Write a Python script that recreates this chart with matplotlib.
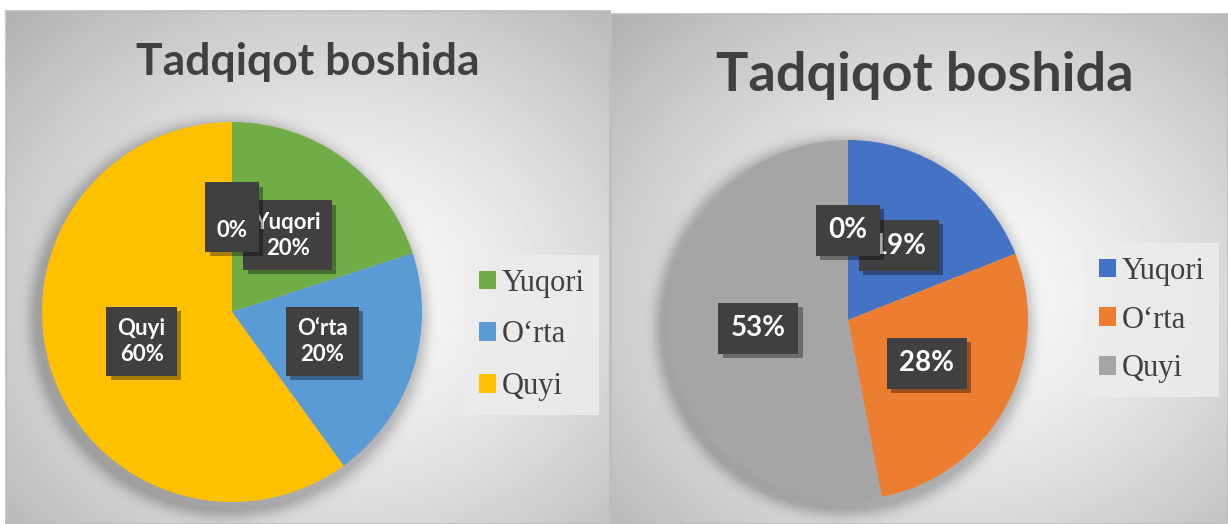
import numpy as np
import matplotlib.pyplot as plt
import matplotlib.patheffects as pe

W, H = 1228, 524

categories = ['Yuqori', 'O\u2018rta', 'Quyi', ' ']
left_values = [20, 20, 60, 0]
right_values = [19, 28, 53, 0]
left_colors = ['#70ad47', '#5b9bd5', '#ffc000', '#a5a5a5']
right_colors = ['#4472c4', '#ed7d31', '#a5a5a5', '#ffc000']
title_text = 'Tadqiqot boshida'


def frac(x0, y0, x1, y1):
    # pixel box (top-left origin) -> figure fraction rect
    return [x0 / W, 1 - y1 / H, (x1 - x0) / W, (y1 - y0) / H]


def background(fig, box, pie_c, pie_r):
    x0, y0, x1, y1 = box
    w, h = x1 - x0, y1 - y0
    ax = fig.add_axes(frac(*box), zorder=0)
    yy, xx = np.mgrid[0:h, 0:w]
    cx, cy = w * 0.55, h * 0.55
    d = np.sqrt(((xx - cx) / (w / 2)) ** 2 + ((yy - cy) / (h / 2)) ** 2)
    g = 0.985 - 0.16 * d ** 1.4
    # soft shadow under the pie
    pd = np.sqrt((xx - (pie_c[0] - x0 - 4)) ** 2 + (yy - (pie_c[1] - y0 + 6)) ** 2) - pie_r
    g = g - 0.2 * np.exp(-(np.clip(pd, 0, None) / 11.0) ** 2)
    ax.imshow(np.clip(g, 0, 1), cmap='gray', vmin=0, vmax=1, aspect='auto',
              interpolation='bilinear')
    ax.set_xticks([])
    ax.set_yticks([])
    for s in ax.spines.values():
        s.set_color('#bdbdbd')
        s.set_linewidth(1.2)


def pie_panel(fig, values, colors, pie_c, pie_r, show_names, lab_size, lab_pad,
              title_xy, title_size, leg_c, leg_space):
    cx, cy = pie_c
    ax = fig.add_axes(frac(cx - pie_r, cy - pie_r, cx + pie_r, cy + pie_r), zorder=2)
    wedges, _ = ax.pie(values, colors=colors, startangle=90, counterclock=False,
                       radius=1, wedgeprops=dict(linewidth=0))
    ax.set_xlim(-1, 1)
    ax.set_ylim(-1, 1)
    ax.set_aspect('equal')
    ax.axis('off')

    total = sum(values)
    for wdg, name, v in zip(wedges, categories, values):
        ang = np.deg2rad((wdg.theta1 + wdg.theta2) / 2)
        pct = f'{round(100 * v / total)}%'
        txt = f'{name}\n{pct}' if show_names else pct
        t = ax.text(0.5 * np.cos(ang), 0.5 * np.sin(ang), txt, ha='center', va='center',
                    color='white', fontsize=lab_size, fontweight='bold', family='Lato',
                    linespacing=1.3,
                    bbox=dict(boxstyle=f'square,pad={lab_pad}', fc='#404040', ec='none'),
                    zorder=5, clip_on=False)
        t.get_bbox_patch().set_path_effects(
            [pe.SimplePatchShadow(offset=(3, -3), shadow_rgbFace='black', alpha=0.35),
             pe.Normal()])

    fig.text(title_xy[0] / W, 1 - title_xy[1] / H, title_text, ha='center', va='center',
             fontsize=title_size, fontweight='bold', family='Lato', color='#404040',
             zorder=6)

    leg = ax.legend(wedges[:3], categories[:3], loc='center',
                    bbox_to_anchor=(leg_c[0] / W, 1 - leg_c[1] / H),
                    bbox_transform=fig.transFigure,
                    prop=dict(family='Liberation Serif', size=22),
                    frameon=True, fancybox=False, facecolor='#ececec', edgecolor='none',
                    framealpha=0.85, handlelength=0.55, handleheight=0.55,
                    handletextpad=0.2, labelspacing=leg_space, borderpad=0.45)
    for txt in leg.get_texts():
        txt.set_color('#404040')


fig = plt.figure(figsize=(W / 100, H / 100), dpi=100)
fig.patch.set_facecolor('white')

left_box = (6, 11, 610, 524)
right_box = (611, 14, 1228, 524)
left_c, left_r = (232, 312), 190
right_c, right_r = (848, 320), 180

background(fig, left_box, left_c, left_r)
background(fig, right_box, right_c, right_r)

pie_panel(fig, left_values, left_colors, left_c, left_r, True, 16, 0.5,
          (308, 62), 32, (532, 335), 0.75)
pie_panel(fig, right_values, right_colors, right_c, right_r, False, 20, 0.45,
          (925, 75), 39, (1152, 320), 0.65)

fig.savefig('out.png', dpi=100, facecolor='white')
